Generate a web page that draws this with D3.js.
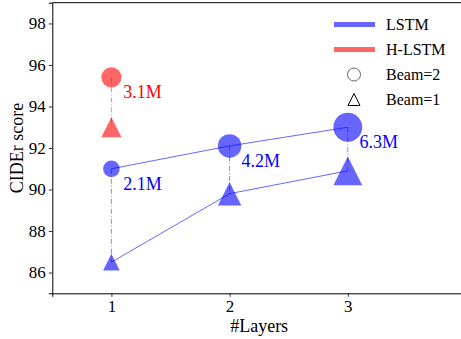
<!DOCTYPE html>
<html lang="en">
<head>
<meta charset="UTF-8">
<script src="https://d3js.org/d3.v7.min.js"></script>
<style>
  body { margin: 0; background: #fff; }
  text { font-family: "Liberation Serif", "Times New Roman", serif; }
</style>
</head>
<body>
<svg id="chart"></svg>
<script>
// data
const layers = [1, 2, 3];
const lstmBeam2 = [91.0, 92.1, 93.0];
const lstmBeam1 = [86.5, 89.8, 90.9];
const lstmParams = [2.1, 4.2, 6.3];
const hlstmLayers = [1];
const hlstmBeam2 = [95.4];
const hlstmBeam1 = [93.0];
const hlstmParams = [3.1];
const yTicks = [86, 88, 90, 92, 94, 96, 98];

const W = 461, H = 339;
const margin = {left: 52.3, top: 2.7, bottom: 45.7};
const svg = d3.select("#chart").attr("width", W).attr("height", H);

const x = d3.scaleLinear().domain([0.5, 4]).range([margin.left, margin.left + 3.5 * 118.2]);
const y = d3.scaleLinear().domain([85, 99]).range([H - margin.bottom, margin.top]);
const r = d3.scaleSqrt().domain([0, 1]).range([0, 5.73]);

const blue = "rgba(0,0,255,0.6)", red = "rgba(255,0,0,0.6)";

// axes
const xAxis = svg.append("g")
    .attr("transform", `translate(0,${y(85)})`)
    .call(d3.axisBottom(x).tickValues(layers).tickFormat(d3.format("d")).tickSizeOuter(0).tickSize(3.5).tickPadding(3));
const yAxis = svg.append("g")
    .attr("transform", `translate(${x(0.5)},0)`)
    .call(d3.axisLeft(y).tickValues(yTicks).tickSizeOuter(0).tickSize(3.5).tickPadding(3));
[xAxis, yAxis].forEach(a => {
  a.selectAll("text").attr("font-size", 17).attr("font-family", "Liberation Serif").attr("fill", "#000");
  a.selectAll("line").attr("stroke", "#000").attr("stroke-width", 0.8);
  a.select(".domain").attr("stroke", "#000").attr("stroke-width", 1);
});
// top and right spines
svg.append("line").attr("x1", x(0.5)).attr("x2", x(4)).attr("y1", y(99)).attr("y2", y(99))
  .attr("stroke", "#000").attr("stroke-width", 1);
svg.append("line").attr("x1", x(4)).attr("x2", x(4)).attr("y1", y(99)).attr("y2", y(85))
  .attr("stroke", "#000").attr("stroke-width", 1);

svg.append("text").attr("x", (x(0.5) + x(4)) / 2).attr("y", 331.5)
  .attr("text-anchor", "middle").attr("font-size", 18).text("#Layers");
svg.append("text").attr("transform", `translate(22.5,${(y(85) + y(99)) / 2}) rotate(-90)`)
  .attr("text-anchor", "middle").attr("font-size", 18).text("CIDEr score");

function tri(cx, cy, rr) {
  return `M${cx},${cy - rr}L${cx - rr},${cy + rr}L${cx + rr},${cy + rr}Z`;
}

function series(xs, b2, b1, ps, col, txtCol) {
  const g = svg.append("g");
  g.selectAll("circle").data(xs).join("circle")
    .attr("cx", d => x(d)).attr("cy", (d, i) => y(b2[i])).attr("r", (d, i) => r(ps[i]))
    .attr("fill", col);
  g.selectAll("path.tri").data(xs).join("path").attr("class", "tri")
    .attr("d", (d, i) => tri(x(d), y(b1[i]), r(ps[i])))
    .attr("fill", col);
  if (xs.length > 1) {
    const line = d3.line().x(d => x(d[0])).y(d => y(d[1]));
    g.append("path").attr("d", line(xs.map((d, i) => [d, b2[i]])))
      .attr("fill", "none").attr("stroke", col).attr("stroke-width", 1);
    g.append("path").attr("d", line(xs.map((d, i) => [d, b1[i]])))
      .attr("fill", "none").attr("stroke", col).attr("stroke-width", 1);
  }
  g.selectAll("line.v").data(xs).join("line").attr("class", "v")
    .attr("x1", d => x(d)).attr("x2", d => x(d))
    .attr("y1", (d, i) => y(b2[i])).attr("y2", (d, i) => y(b1[i]))
    .attr("stroke", col).attr("stroke-width", 0.8).attr("stroke-dasharray", "5,2,1,2");
  g.selectAll("text").data(xs).join("text")
    .attr("x", d => x(d + 0.1)).attr("y", (d, i) => y(b2[i] - 1))
    .attr("font-size", 18).attr("fill", txtCol)
    .text((d, i) => ps[i] + "M");
}
series(hlstmLayers, hlstmBeam2, hlstmBeam1, hlstmParams, red, "red");
series(layers, lstmBeam2, lstmBeam1, lstmParams, blue, "blue");

// legend
const leg = svg.append("g");
const items = [
  {label: "LSTM", type: "line", col: blue},
  {label: "H-LSTM", type: "line", col: red},
  {label: "Beam=2", type: "circle"},
  {label: "Beam=1", type: "tri"}
];
items.forEach((it, i) => {
  const cy = 24.5 + i * 25;
  if (it.type === "line") {
    leg.append("line").attr("x1", 334).attr("x2", 375).attr("y1", cy).attr("y2", cy)
      .attr("stroke", it.col).attr("stroke-width", 5);
  } else if (it.type === "circle") {
    leg.append("circle").attr("cx", 354).attr("cy", cy).attr("r", 6.5)
      .attr("fill", "none").attr("stroke", "#666").attr("stroke-width", 1);
  } else {
    leg.append("path").attr("d", tri(354, cy, 6)).attr("fill", "none")
      .attr("stroke", "#000").attr("stroke-width", 1);
  }
  leg.append("text").attr("x", 386).attr("y", cy + 5.5).attr("font-size", 16).text(it.label);
});
</script>
</body>
</html>
